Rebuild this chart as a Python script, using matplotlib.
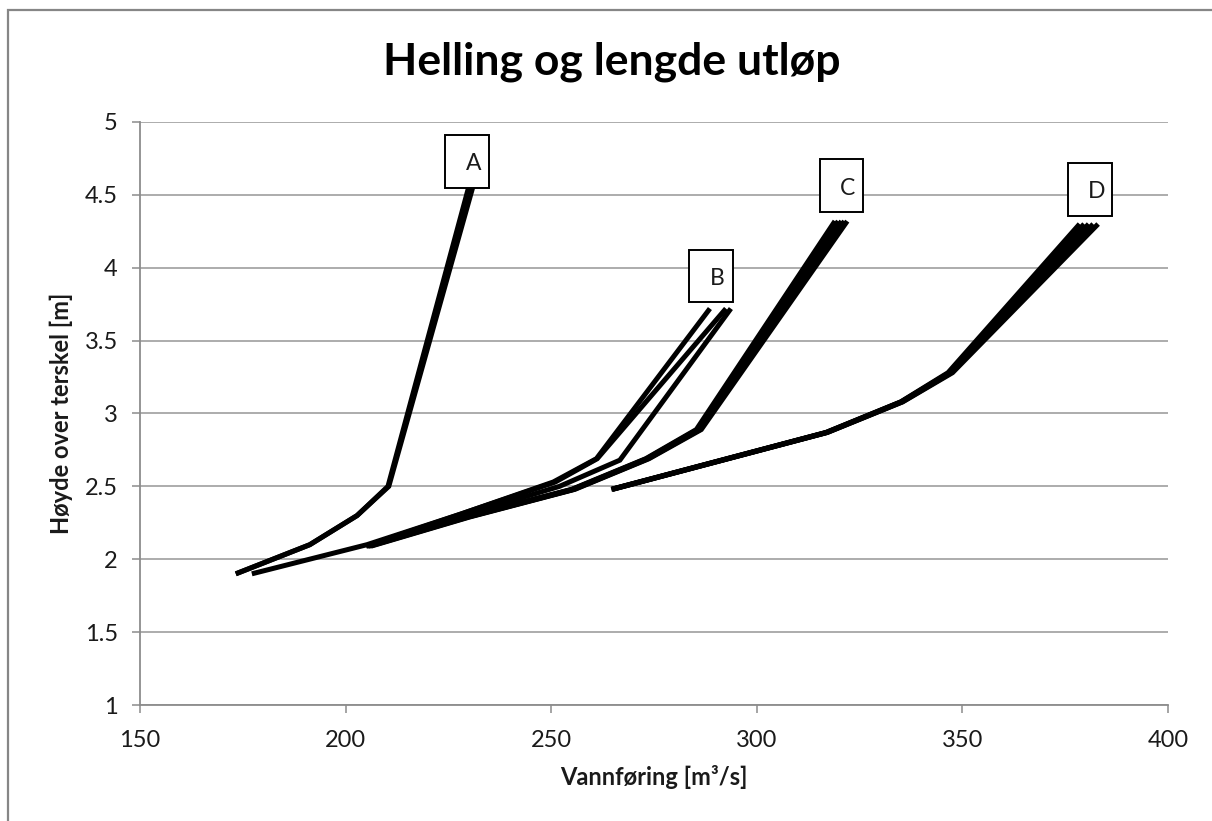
import matplotlib
matplotlib.use('Agg')
import matplotlib.pyplot as plt
from matplotlib.patches import Rectangle
from matplotlib.text import Text
from matplotlib.offsetbox import AnnotationBbox, DrawingArea
from matplotlib.ticker import FuncFormatter, MultipleLocator

plt.rcParams['font.family'] = ['Lato', 'DejaVu Sans']

# Data (flow m3/s, height m)
a1_q = [173.3, 191.3, 202.8, 210.3, 229.9]
a1_h = [1.90, 2.10, 2.30, 2.50, 4.55]
a2_q = [173.3, 191.3, 202.8, 210.5, 230.9]
a2_h = [1.90, 2.10, 2.30, 2.50, 4.55]

b1_q = [177.2, 205.2, 228.0, 250.5, 261.0, 288.6]
b1_h = [1.90, 2.10, 2.31, 2.53, 2.69, 3.72]
b2_q = [205.0, 228.0, 251.0, 261.2, 292.5]
b2_h = [2.09, 2.31, 2.53, 2.69, 3.72]
b3_q = [205.5, 228.5, 252.0, 266.7, 293.7]
b3_h = [2.09, 2.30, 2.50, 2.68, 3.72]

c1_q = [205.0, 229.0, 255.0, 273.0, 285.3, 319.0]
c1_h = [2.09, 2.29, 2.48, 2.69, 2.89, 4.32]
c2_q = [205.3, 229.3, 255.2, 273.2, 285.6, 319.8]
c2_h = [2.09, 2.29, 2.48, 2.69, 2.89, 4.32]
c3_q = [205.6, 229.6, 255.4, 273.4, 285.9, 320.6]
c3_h = [2.09, 2.29, 2.48, 2.69, 2.89, 4.32]
c4_q = [205.9, 229.9, 255.6, 273.6, 286.2, 321.3]
c4_h = [2.09, 2.29, 2.48, 2.69, 2.89, 4.32]
c5_q = [206.2, 230.2, 255.8, 273.8, 286.5, 322.0]
c5_h = [2.09, 2.29, 2.48, 2.69, 2.89, 4.32]

d1_q = [264.6, 316.8, 335.0, 346.5, 378.5]
d1_h = [2.48, 2.87, 3.08, 3.28, 4.30]
d2_q = [264.7, 316.9, 335.1, 346.8, 379.6]
d2_h = [2.48, 2.87, 3.08, 3.28, 4.30]
d3_q = [264.8, 317.0, 335.2, 347.0, 380.7]
d3_h = [2.48, 2.87, 3.08, 3.28, 4.30]
d4_q = [264.9, 317.1, 335.4, 347.3, 381.8]
d4_h = [2.48, 2.87, 3.08, 3.28, 4.30]
d5_q = [265.0, 317.2, 335.5, 347.6, 383.0]
d5_h = [2.48, 2.87, 3.08, 3.28, 4.30]

series = [(a1_q, a1_h), (a2_q, a2_h),
          (b1_q, b1_h), (b2_q, b2_h), (b3_q, b3_h),
          (c1_q, c1_h), (c2_q, c2_h), (c3_q, c3_h), (c4_q, c4_h), (c5_q, c5_h),
          (d1_q, d1_h), (d2_q, d2_h), (d3_q, d3_h), (d4_q, d4_h), (d5_q, d5_h)]

# label, series it sits on, offset of box (points)
labels = [('A', a1_q, a1_h, (-1, 0)), ('B', b1_q, b1_h, (1, 4.5)),
          ('C', c3_q, c3_h, (0, 6.5)), ('D', d3_q, d3_h, (1, 6))]

fig = plt.figure(figsize=(12.12, 8.21), dpi=100)
ax = fig.add_axes([140 / 1212, 116 / 821, 1028 / 1212, 583 / 821])

# chart area border (runs off the right and bottom of the image)
fig.patches.append(Rectangle((8 / 1212, -0.05), 1.1, (821 - 10) / 821 + 0.05,
                             transform=fig.transFigure, fill=False,
                             edgecolor='#868686', lw=1.6, zorder=0))

for q, h in series:
    ax.plot(q, h, color='black', lw=3.6, solid_capstyle='butt',
            solid_joinstyle='miter', zorder=3)

bw, bh = 31.5, 38.0   # label box size, points
for name, q, h, off in labels:
    da = DrawingArea(bw, bh, 0, 0)
    da.add_artist(Rectangle((0, 0), bw, bh, fc='white', ec='black', lw=1.4))
    da.add_artist(Text(bw * 0.64, bh * 0.45, name, ha='center', va='center',
                       fontsize=16.5, color='#1a1a1a', family=['Lato', 'DejaVu Sans']))
    ab = AnnotationBbox(da, (q[-1], h[-1]), xybox=off, boxcoords='offset points',
                        box_alignment=(0.5, 0), frameon=False, pad=0, zorder=5)
    ax.add_artist(ab)

ax.set_xlim(150, 400)
ax.set_ylim(1, 5)
ax.xaxis.set_major_locator(MultipleLocator(50))
ax.yaxis.set_major_locator(MultipleLocator(0.5))
ax.yaxis.set_major_formatter(FuncFormatter(lambda v, p: '%g' % v))
ax.grid(axis='y', color='#a6a6a6', lw=1.3)
ax.set_axisbelow(True)

for s in ['top', 'right']:
    ax.spines[s].set_visible(False)
for s in ['left', 'bottom']:
    ax.spines[s].set_color('#8c8c8c')
    ax.spines[s].set_linewidth(1.3)
ax.tick_params(direction='out', length=6, width=1.1, color='#8c8c8c',
               labelsize=17, labelcolor='#1a1a1a')
ax.tick_params(axis='y', pad=10)
ax.tick_params(axis='x', pad=12)

ax.set_xlabel('Vannføring [m³/s]', fontsize=17, fontweight='bold',
              color='#1a1a1a', labelpad=10)
ax.set_ylabel('Høyde over terskel [m]', fontsize=17, fontweight='bold',
              color='#1a1a1a', labelpad=8)
fig.text(612 / 1212, 1 - 62 / 821, 'Helling og lengde utløp', ha='center',
         va='center', fontsize=32, fontweight='bold', color='black')

fig.savefig('out.png', dpi=100)
